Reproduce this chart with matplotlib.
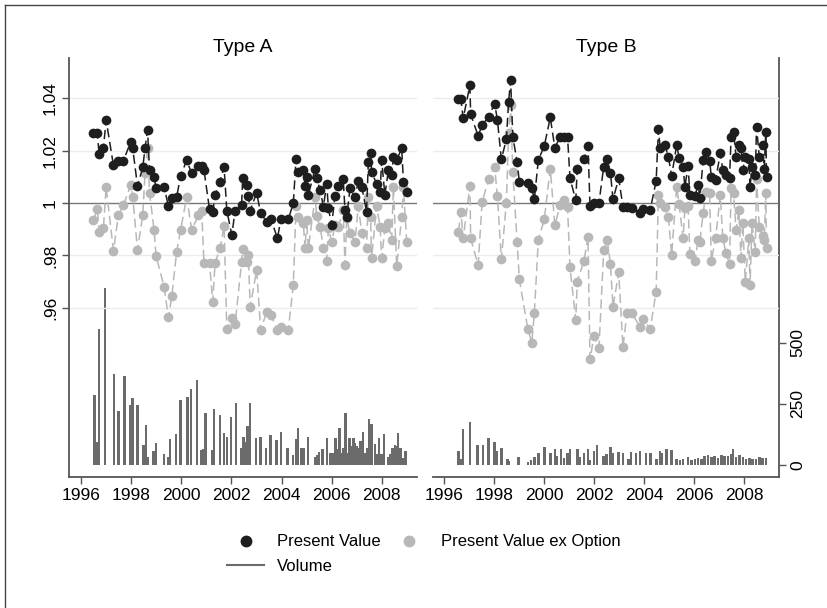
import matplotlib.pyplot as plt
from matplotlib.lines import Line2D
import numpy as np

plt.rcParams['font.family'] = ['Liberation Sans', 'DejaVu Sans']

# ---- Type A ----
a_dates = [1996.50, 1996.66, 1996.73, 1996.90, 1997.01, 1997.30, 1997.50, 1997.70, 1997.99, 1998.07,
           1998.26, 1998.47, 1998.56, 1998.66, 1998.74, 1998.92, 1999.00, 1999.32, 1999.49, 1999.63,
           1999.82, 1999.98, 2000.22, 2000.42, 2000.69, 2000.82, 2000.91, 2001.13, 2001.26, 2001.35,
           2001.55, 2001.71, 2001.82, 2002.02, 2002.15, 2002.41, 2002.45, 2002.61, 2002.68, 2002.75,
           2003.01, 2003.17, 2003.41, 2003.57, 2003.84, 2003.97, 2004.27, 2004.47,
           2004.58, 2004.67, 2004.87, 2004.94, 2005.00, 2005.07, 2005.34, 2005.40, 2005.54, 2005.67,
           2005.80, 2005.87, 2006.00, 2006.13, 2006.27, 2006.46, 2006.53, 2006.60, 2006.73, 2006.93,
           2007.06, 2007.20, 2007.39, 2007.46, 2007.55, 2007.59, 2007.79, 2007.93, 2007.99, 2008.12,
           2008.26, 2008.39, 2008.46, 2008.59, 2008.79, 2008.86, 2008.99]
a_pv = [1.0268, 1.0266, 1.0187, 1.0209, 1.0317, 1.0145, 1.0162, 1.0162, 1.0234, 1.0209,
        1.0065, 1.0136, 1.0209, 1.0279, 1.0128, 1.0101, 1.0056, 1.0062, 0.9989, 1.0018,
        1.0024, 1.0103, 1.0164, 1.0113, 1.0141, 1.0141, 1.0126, 0.9976, 0.9967, 1.0031,
        1.0081, 1.0139, 0.9971, 0.9878, 0.9971, 0.9992, 1.0094, 1.0069, 1.0027, 0.9971,
        1.0039, 0.9961, 0.9929, 0.9941, 0.9865, 0.9938, 0.9938, 0.9999,
        1.0170, 1.0120, 1.0126, 1.0065, 1.0101, 1.0031, 1.0132, 1.0094, 1.0050, 0.9986,
        1.0073, 0.9980, 0.9916, 1.0027, 1.0065, 1.0090, 0.9973, 0.9948, 1.0056, 1.0022,
        1.0085, 1.0062, 0.9967, 1.0158, 1.0190, 1.0120, 1.0073, 1.0043, 1.0164, 1.0031,
        1.0126, 1.0107, 1.0177, 1.0164, 1.0209, 1.0081, 1.0043]
a_pvx = [0.9935, 0.9976, 0.9891, 0.9903, 1.0062, 0.9818, 0.9954, 0.9992, 1.0069, 1.0024,
         0.9821, 0.9954, 1.0113, 1.0212, 1.0039, 0.9897, 0.9798, 0.9681, 0.9563, 0.9646,
         0.9814, 0.9897, 1.0024, 0.9897, 0.9954, 0.9970, 0.9770, 0.9770, 0.9623, 0.9770,
         0.9827, 0.9912, 0.9519, 0.9560, 0.9538, 0.9776, 0.9825, 0.9776, 0.9800, 0.9604,
         0.9744, 0.9515, 0.9585, 0.9573, 0.9515, 0.9528, 0.9515, 0.9687,
         0.9989, 0.9948, 0.9922, 0.9827, 0.9935, 0.9827, 1.0024, 0.9950, 0.9910, 0.9827,
         0.9780, 0.9903, 0.9852, 0.9916, 0.9910, 0.9973, 0.9763, 0.9942, 0.9885, 0.9852,
         0.9989, 0.9885, 0.9827, 1.0024, 0.9948, 0.9789, 0.9989, 0.9910, 0.9789, 0.9903,
         0.9922, 0.9859, 1.0062, 0.9759, 0.9948, 1.0062, 0.9850]
a_vol_dates = [1996.54, 1996.64, 1996.73, 1996.97, 1997.33, 1997.50, 1997.74, 1997.97, 1998.06, 1998.26,
               1998.50, 1998.60, 1998.67, 1998.90, 1998.99, 1999.32, 1999.47, 1999.56, 1999.80, 1999.98,
               2000.25, 2000.40, 2000.63, 2000.79, 2000.89, 2000.98, 2001.22, 2001.31, 2001.55, 2001.71,
               2001.82, 2001.99, 2002.18, 2002.39, 2002.48, 2002.57, 2002.64, 2002.75,
               2002.98, 2003.16, 2003.38, 2003.57, 2003.80, 2003.97, 2004.23, 2004.46, 2004.57, 2004.66,
               2004.80, 2004.89, 2005.06, 2005.33, 2005.42, 2005.50, 2005.63, 2005.82, 2005.95, 2006.06,
               2006.15, 2006.22, 2006.32, 2006.39, 2006.46, 2006.56, 2006.62, 2006.70, 2006.79, 2006.86,
               2006.92, 2006.99, 2007.05, 2007.15, 2007.25, 2007.32, 2007.41, 2007.49, 2007.59, 2007.72,
               2007.82, 2007.89, 2007.98, 2008.08, 2008.25, 2008.34, 2008.42, 2008.52, 2008.58, 2008.65,
               2008.74, 2008.85, 2008.94]
a_vol = [286, 95, 554, 722, 370, 219, 362, 244, 272, 244,
         80, 162, 34, 57, 89, 44, 33, 105, 125, 264,
         278, 309, 346, 60, 64, 211, 60, 227, 204, 129,
         114, 195, 252, 68, 114, 95, 159, 252,
         109, 116, 71, 121, 101, 133, 68, 40, 105, 150,
         68, 68, 116, 34, 40, 53, 64, 112, 48, 48,
         109, 67, 150, 48, 68, 214, 48, 109, 78, 109,
         89, 78, 68, 98, 136, 48, 68, 187, 166, 84,
         44, 109, 44, 125, 34, 44, 68, 80, 78, 129,
         68, 27, 57]

# ---- Type B ----
b_dates = [1996.56, 1996.66, 1996.75, 1997.02, 1997.05, 1997.35, 1997.51, 1997.77, 1998.01, 1998.12,
           1998.28, 1998.48, 1998.57, 1998.65, 1998.74, 1998.91, 1999.00, 1999.34, 1999.50, 1999.60,
           1999.76, 2000.00, 2000.24, 2000.42, 2000.64, 2000.77, 2000.93, 2001.03, 2001.26, 2001.32,
           2001.59, 2001.75, 2001.83, 2001.99, 2002.19, 2002.38, 2002.52, 2002.65, 2002.75, 2002.98,
           2003.15, 2003.31, 2003.51, 2003.84, 2003.97, 2004.24, 2004.48, 2004.57, 2004.64, 2004.83,
           2004.97, 2005.10, 2005.30, 2005.40, 2005.56, 2005.63, 2005.76, 2005.83, 2006.03, 2006.16,
           2006.23, 2006.36, 2006.49, 2006.62, 2006.69, 2006.86, 2007.05, 2007.15, 2007.28, 2007.42,
           2007.48, 2007.58, 2007.68, 2007.79, 2007.88, 2007.95, 2008.05, 2008.19, 2008.24, 2008.32,
           2008.45, 2008.50, 2008.61, 2008.74, 2008.81, 2008.87, 2008.90]
b_pv = [1.0396, 1.0396, 1.0323, 1.0450, 1.0340, 1.0256, 1.0298, 1.0330, 1.0380, 1.0319,
        1.0167, 1.0243, 1.0387, 1.0469, 1.0253, 1.0158, 1.0081, 1.0078, 1.0056, 1.0014,
        1.0164, 1.0218, 1.0327, 1.0212, 1.0253, 1.0253, 1.0253, 1.0094, 1.0011, 1.0132,
        1.0167, 1.0218, 0.9989, 0.9999, 1.0001, 1.0139, 1.0167, 1.0116, 1.0014, 1.0094,
        0.9986, 0.9986, 0.9980, 0.9961, 0.9976, 0.9973, 1.0085, 1.0281, 1.0212, 1.0221,
        1.0177, 1.0103, 1.0221, 1.0174, 1.0139, 1.0062, 1.0141, 1.0031, 1.0027, 1.0069,
        1.0018, 1.0164, 1.0196, 1.0162, 1.0101, 1.0088, 1.0190, 1.0126, 1.0107, 1.0094,
        1.0251, 1.0272, 1.0177, 1.0221, 1.0209, 1.0126, 1.0177, 1.0170, 1.0060, 1.0139,
        1.0107, 1.0291, 1.0177, 1.0221, 1.0132, 1.0272, 1.0098]
b_pvx = [0.9891, 0.9967, 0.9865, 1.0065, 0.9865, 0.9763, 1.0005, 1.0090, 1.0139, 1.0027,
         0.9785, 1.0001, 1.0266, 1.0374, 1.0120, 0.9852, 0.9709, 0.9519, 0.9467, 0.9579,
         0.9859, 0.9938, 1.0132, 0.9916, 0.9992, 1.0011, 0.9986, 0.9754, 0.9553, 0.9700,
         0.9780, 0.9871, 0.9403, 0.9492, 0.9448, 0.9821, 0.9859, 0.9767, 0.9604, 0.9735,
         0.9449, 0.9579, 0.9579, 0.9526, 0.9556, 0.9519, 0.9662, 1.0031, 0.9999, 0.9986,
         0.9948, 0.9802, 1.0062, 0.9996, 0.9865, 0.9980, 0.9989, 0.9806, 0.9777, 0.9859,
         0.9852, 0.9962, 1.0043, 1.0037, 0.9780, 0.9865, 1.0030, 0.9865, 0.9808, 0.9767,
         1.0056, 1.0037, 0.9897, 0.9973, 0.9789, 0.9922, 0.9700, 0.9865, 0.9687, 0.9922,
         0.9814, 1.0090, 0.9908, 0.9876, 0.9859, 1.0037, 0.9827]
b_vol_dates = [1996.56, 1996.64, 1996.75, 1997.02, 1997.32, 1997.55, 1997.77, 1998.01, 1998.08, 1998.28,
               1998.52, 1998.57, 1998.97, 1999.34, 1999.47, 1999.60, 1999.76, 2000.00, 2000.24, 2000.42,
               2000.50, 2000.66, 2000.79, 2000.93, 2001.03, 2001.32, 2001.43, 2001.59, 2001.75, 2001.83,
               2001.99, 2002.12, 2002.38, 2002.49, 2002.65, 2002.75, 2002.98, 2003.15, 2003.38, 2003.47,
               2003.68, 2003.84, 2004.08, 2004.26, 2004.50, 2004.64, 2004.70, 2004.90, 2005.10, 2005.30,
               2005.43, 2005.56, 2005.76, 2005.89, 2006.03, 2006.16, 2006.29, 2006.42, 2006.56, 2006.69,
               2006.82, 2006.95, 2007.09, 2007.22, 2007.35, 2007.48, 2007.55, 2007.68, 2007.81, 2007.95,
               2008.08, 2008.21, 2008.34, 2008.48, 2008.61, 2008.74, 2008.87]
b_vol = [57, 23, 146, 177, 80, 80, 112, 95, 57, 71,
         23, 16, 34, 14, 20, 34, 50, 75, 48, 67,
         37, 64, 30, 48, 64, 67, 34, 48, 64, 20,
         57, 80, 37, 44, 75, 48, 53, 48, 23, 53,
         48, 57, 48, 48, 23, 57, 48, 64, 61, 23,
         20, 23, 34, 20, 23, 30, 26, 37, 39, 34,
         37, 30, 39, 37, 37, 44, 67, 34, 39, 34,
         23, 30, 23, 26, 34, 30, 30]

titles = ['Type A', 'Type B']
x_ticks = [1996, 1998, 2000, 2002, 2004, 2006, 2008]
pv_ticks = [0.96, 0.98, 1.0, 1.02, 1.04]
pv_tick_labels = ['.96', '.98', '1', '1.02', '1.04']
vol_ticks = [0, 250, 500]

DARK = '#1e1e1e'
LIGHT = '#b8b8b8'
BARC = '#6b6b6b'
AXC = '#555555'

fig = plt.figure(figsize=(8.27, 6.08), dpi=100)
W, H = 827, 608
panels = [(69, 417), (432.7, 779)]
data = [(a_dates, a_pv, a_pvx, a_vol_dates, a_vol),
        (b_dates, b_pv, b_pvx, b_vol_dates, b_vol)]

for i, ((x0, x1), (d, pv, pvx, vd, vol)) in enumerate(zip(panels, data)):
    ax = fig.add_axes([x0 / W, 1 - 476.7 / H, (x1 - x0) / W, (476.7 - 58) / H])
    ax2 = ax.twinx()
    ax.set_zorder(ax2.get_zorder() + 1)
    ax.patch.set_visible(False)

    ax2.bar(vd, vol, width=0.1, color=BARC, linewidth=0)
    ax2.set_ylim(-48, 1662)

    for g in [0.96, 0.98, 1.02, 1.04]:
        ax.axhline(g, color='#ececec', lw=1.0, zorder=0)
    ax.axhline(1.0, color='#777777', lw=1.0, zorder=1)

    ax.plot(d, pvx, color=LIGHT, lw=1.1, ls=(0, (6, 3)), marker='o', ms=7,
            markeredgewidth=0, zorder=2)
    ax.plot(d, pv, color=DARK, lw=1.1, ls=(0, (6, 3)), marker='o', ms=7,
            markeredgewidth=0, zorder=3)

    ax.set_xlim(1995.53, 2009.4)
    ax.set_ylim(0.8955, 1.0554)
    ax.set_xticks(x_ticks)
    ax.tick_params(axis='x', labelsize=12.5, length=5, width=1, color=AXC, pad=3)
    ax.set_title(titles[i], fontsize=14, pad=4)

    for s in ['top', 'right', 'left', 'bottom']:
        ax.spines[s].set_visible(False)
        ax2.spines[s].set_visible(False)
    ax.spines['bottom'].set_visible(True)
    ax.spines['bottom'].set_color(AXC)
    ax.spines['bottom'].set_linewidth(1.3)

    if i == 0:
        ax.spines['left'].set_visible(True)
        ax.spines['left'].set_color(AXC)
        ax.spines['left'].set_linewidth(1.3)
        ax.set_yticks(pv_ticks)
        ax.set_yticklabels(pv_tick_labels, rotation=90, va='center')
        ax.tick_params(axis='y', labelsize=12.5, length=5, width=1, color=AXC, pad=3)
        ax2.set_yticks([])
    else:
        ax.set_yticks([])
        ax2.spines['right'].set_visible(True)
        ax2.spines['right'].set_color(AXC)
        ax2.spines['right'].set_linewidth(1.3)
        ax2.set_yticks(vol_ticks)
        ax2.set_yticklabels([str(v) for v in vol_ticks], rotation=90, va='center')
        ax2.tick_params(axis='y', labelsize=12.5, length=5, width=1, color=AXC, pad=3)

handles = [Line2D([], [], color=DARK, marker='o', ls='none', ms=7.5),
           Line2D([], [], color=BARC, lw=1.5),
           Line2D([], [], color=LIGHT, marker='o', ls='none', ms=7.5)]
labels = ['Present Value', 'Volume', 'Present Value ex Option']
fig.legend(handles, labels, ncol=2, loc='center', bbox_to_anchor=(424 / W, 1 - 554 / H),
           frameon=False, fontsize=12, handlelength=2.2, handletextpad=0.8,
           columnspacing=0.6, labelspacing=0.55)

# outer frame
fig.add_artist(Line2D([5 / W, 5 / W], [0, 1 - 5 / H], color='#444444', lw=1.0))
fig.add_artist(Line2D([5 / W, 1], [1 - 5 / H, 1 - 5 / H], color='#444444', lw=1.0))

fig.savefig('out.png', dpi=100)
